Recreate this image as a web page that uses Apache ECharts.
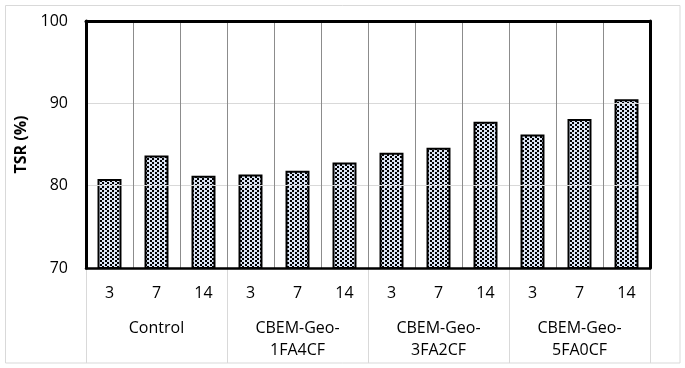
<!DOCTYPE html>
<html>
<head>
<meta charset="utf-8">
<script src="https://cdn.jsdelivr.net/npm/echarts@6/dist/echarts.min.js"></script>
<style>html,body{margin:0;padding:0;background:#fff;}#c{width:685px;height:368px;}</style>
</head>
<body>
<div id="c"></div>
<script>
const days = ['3','7','14','3','7','14','3','7','14','3','7','14'];
const groups = ['Control','CBEM-Geo-\n1FA4CF','CBEM-Geo-\n3FA2CF','CBEM-Geo-\n5FA0CF'];
const tsr = [80.8, 83.65, 81.2, 81.35, 81.8, 82.8, 84.0, 84.6, 87.75, 86.2, 88.1, 90.5];
const yTicks = {min: 70, max: 100, interval: 10};

const tile = document.createElement('canvas');
tile.width = 10; tile.height = 4;
const tc = tile.getContext('2d');
tc.fillStyle = '#dae3f3'; tc.fillRect(0,0,10,4);
tc.fillStyle = '#000';
tc.fillRect(0,0,2,2);
tc.fillRect(5,0,2,2);
tc.fillRect(2,2,2,2);
tc.fillRect(7,2,2,2);

const font = 'Open Sans';
const frameLine = {show: true, lineStyle: {color: '#000', width: 3}};
const chart = echarts.init(document.getElementById('c'));
chart.setOption({
  animation: false,
  backgroundColor: '#fff',
  graphic: [{
    type: 'rect', shape: {x: 5.5, y: 5.5, width: 674.5, height: 357.5},
    style: {fill: 'none', stroke: '#d9d9d9', lineWidth: 1}, z: -1
  }],
  grid: {left: 86, right: 35, top: 21, bottom: 100, show: false},
  xAxis: [{
    type: 'category', data: days, position: 'bottom', z: 10,
    axisLine: {show: true, lineStyle: {color: '#000', width: 2.5}},
    axisTick: {show: false},
    splitLine: {show: true, interval: 0, lineStyle: {color: '#8c8c8c', width: 1}},
    axisLabel: {interval: 0, color: '#000', fontFamily: font, fontSize: 16, margin: 15, lineHeight: 20}
  }, {
    type: 'category', data: groups, position: 'bottom', offset: 0,
    axisLine: {show: false},
    axisTick: {show: true, interval: 0, length: 95, lineStyle: {color: '#d9d9d9', width: 1}},
    splitLine: {show: false},
    axisLabel: {interval: 0, color: '#000', fontFamily: font, fontSize: 16, margin: 49, lineHeight: 22}
  }, {
    type: 'category', data: days, position: 'top', z: 10,
    axisLine: frameLine, axisTick: {show: false}, axisLabel: {show: false}, splitLine: {show: false}
  }],
  yAxis: [{
    type: 'value', min: yTicks.min, max: yTicks.max, interval: yTicks.interval, z: 10,
    name: 'TSR (%)', nameLocation: 'middle', nameGap: 57, nameRotate: 90,
    nameTextStyle: {color: '#000', fontFamily: font, fontSize: 16, fontWeight: 'bold'},
    axisLine: frameLine, axisTick: {show: false},
    splitLine: {show: true, lineStyle: {color: '#d9d9d9', width: 1}},
    axisLabel: {color: '#000', fontFamily: font, fontSize: 16, margin: 18}
  }, {
    type: 'value', min: yTicks.min, max: yTicks.max, interval: yTicks.interval, position: 'right', z: 10,
    axisLine: frameLine, axisTick: {show: false}, axisLabel: {show: false}, splitLine: {show: false}
  }],
  series: [{
    type: 'bar', data: tsr, xAxisIndex: 0, yAxisIndex: 0, barWidth: '51%',
    itemStyle: {color: {image: tile, repeat: 'repeat'}, borderColor: '#000', borderWidth: 2}
  }]
});
</script>
</body>
</html>
